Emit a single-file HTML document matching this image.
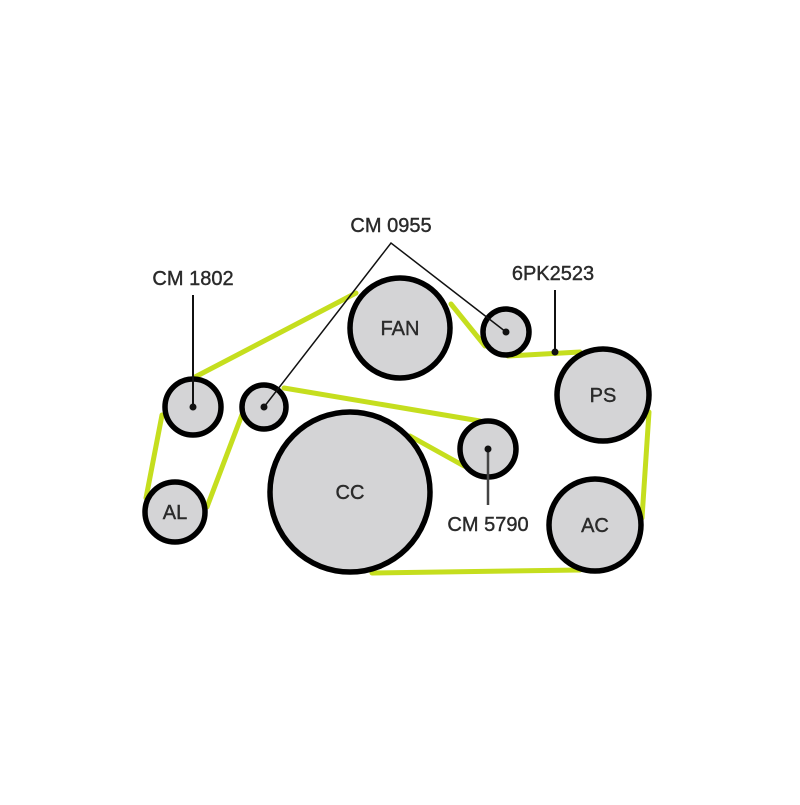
<!DOCTYPE html>
<html><head><meta charset="utf-8"><style>body{margin:0;background:#fff}</style></head>
<body>
<svg width="800" height="800" viewBox="0 0 800 800" xmlns="http://www.w3.org/2000/svg" font-family="Liberation Sans, sans-serif">
<rect width="800" height="800" fill="#fff"/>
<g stroke="#c5de1e" stroke-width="5" fill="none" stroke-linecap="round">
<line x1="195" y1="377" x2="356" y2="293"/>
<line x1="451" y1="304" x2="485" y2="346"/>
<line x1="508" y1="356" x2="580" y2="352"/>
<line x1="649" y1="412" x2="642" y2="518"/>
<line x1="580" y1="570" x2="372" y2="573"/>
<line x1="410" y1="436" x2="464" y2="466"/>
<line x1="480" y1="421" x2="284" y2="388"/>
<line x1="243" y1="412" x2="207" y2="507"/>
<line x1="146" y1="498" x2="162" y2="415"/>
</g>
<g fill="#d4d4d6" stroke="#000" stroke-width="5.5">
<circle cx="400" cy="328" r="50"/>
<circle cx="506" cy="332" r="23"/>
<circle cx="603" cy="395" r="46"/>
<circle cx="193" cy="407" r="28"/>
<circle cx="264" cy="407" r="22"/>
<circle cx="350" cy="492" r="80"/>
<circle cx="488" cy="449" r="28"/>
<circle cx="175" cy="512" r="30"/>
<circle cx="595" cy="525" r="46"/>
</g>
<g stroke="#111" stroke-width="1.5" fill="none">
<polyline points="264,407 391,243 506,332"/>
<line x1="193" y1="295" x2="193" y2="407" stroke-width="2"/>
<line x1="555" y1="290" x2="555" y2="352" stroke-width="2"/>
<line x1="488" y1="449" x2="488" y2="505" stroke="#444" stroke-width="2.5"/>
</g>
<g fill="#111">
<circle cx="193" cy="407" r="3.5"/><circle cx="264" cy="407" r="3.5"/>
<circle cx="506" cy="332" r="3.5"/><circle cx="488" cy="449" r="3.5"/>
<circle cx="555" cy="352" r="3.5"/>
</g>
<g fill="#2a2a2a" font-size="20" text-anchor="middle" stroke="#2a2a2a" stroke-width="0.4">
<text x="400" y="335">FAN</text>
<text x="350" y="499">CC</text>
<text x="603" y="402">PS</text>
<text x="595" y="532">AC</text>
<text x="175" y="519">AL</text>
<text x="391" y="232">CM 0955</text>
<text x="193" y="285">CM 1802</text>
<text x="553" y="280">6PK2523</text>
<text x="488" y="531">CM 5790</text>
</g>
</svg>
</body></html>
